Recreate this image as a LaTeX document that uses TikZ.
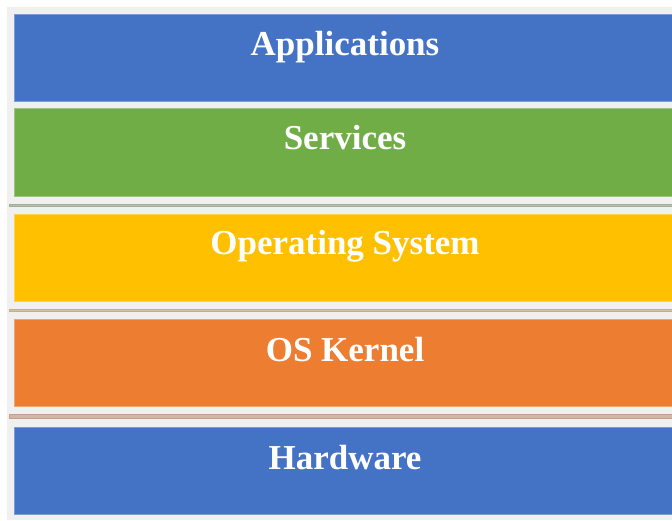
\documentclass[tikz,border=0pt]{standalone}
\usepackage{fontspec}
\setmainfont{Liberation Serif}
\definecolor{panelgray}{HTML}{F0F0F0}
\definecolor{layerblue}{HTML}{4472C4}
\definecolor{layergreen}{HTML}{70AD47}
\definecolor{layeryellow}{HTML}{FFC000}
\definecolor{layerorange}{HTML}{ED7D31}
\definecolor{sepgreen}{HTML}{A0AE98}
\definecolor{septan}{HTML}{C2B084}
\definecolor{sepbrown}{HTML}{C49E88}
\begin{document}
\begin{tikzpicture}[x=1pt,y=-1pt,
  layer/.style={draw=#1!70!white,line width=0.6pt,fill=#1,inner sep=0pt},
  layertext/.style={text=white,font=\bfseries\fontsize{35}{40}\selectfont,anchor=base,inner sep=0pt},
  sepline/.style={fill=#1!75!white,draw=#1,line width=0.8pt}]
  \useasboundingbox (0,0) rectangle (672,521);
  \fill[white] (0,0) rectangle (672,521);
  % background panel
  \fill[panelgray] (7,7) rectangle (672,520);
  % layers, top to bottom
  \path[layer=layerblue]   (14,14)  rectangle (673,101) coordinate (appB);
  \path[layer=layergreen]  (14,108) rectangle (673,196) coordinate (srvB);
  \path[layer=layeryellow] (14,214) rectangle (673,301) coordinate (osB);
  \path[layer=layerorange] (14,319) rectangle (673,406) coordinate (krnB);
  \path[layer=layerblue]   (14,427) rectangle (673,514) coordinate (hwB);
  % separators between layers
  \path[sepline=sepgreen] (9,204) rectangle (673,206.5);
  \path[sepline=septan]   (9,309) rectangle (673,311.5);
  \path[sepline=sepbrown] (9,414.5) rectangle (673,418.5);
  % labels
  \node[layertext] (app) at (345,56)  {Applications};
  \node[layertext] (srv) at (345,150) {Services};
  \node[layertext] (os)  at (345,255) {Operating System};
  \node[layertext] (krn) at (345,361) {OS Kernel};
  \node[layertext] (hw)  at (345,469) {Hardware};
\end{tikzpicture}
\end{document}
